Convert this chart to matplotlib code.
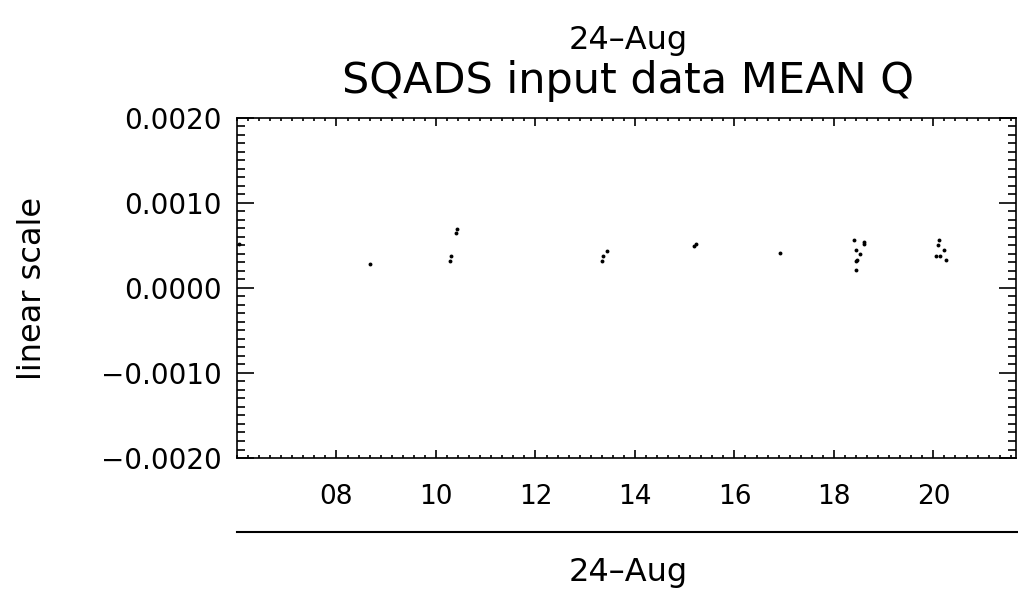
"""
SQADS input data MEAN Q - IDL 스타일 산점도 재현
"""
import matplotlib
matplotlib.use('Agg')
import matplotlib.pyplot as plt
from matplotlib.lines import Line2D
from matplotlib.ticker import MultipleLocator, FuncFormatter

# 데이터 (시각: 시간 단위, 값: MEAN Q)
hours = [6.05, 8.68, 10.29, 10.31, 10.40, 10.43, 13.33, 13.36, 13.43,
         15.19, 15.23, 16.91, 18.41, 18.45, 18.45, 18.45, 18.46, 18.53,
         18.61, 18.61, 20.06, 20.09, 20.11, 20.13, 20.21, 20.25]
mean_q = [0.00052, 0.00028, 0.00031, 0.00037, 0.00064, 0.00069, 0.00031, 0.00038, 0.00043,
          0.00049, 0.00051, 0.00041, 0.00056, 0.00044, 0.00031, 0.00021, 0.00033, 0.00040,
          0.00051, 0.00054, 0.00038, 0.00050, 0.00056, 0.00037, 0.00045, 0.00033]

x_ticks = [8, 10, 12, 14, 16, 18, 20]
y_ticks = [-0.002, -0.001, 0.0, 0.001, 0.002]
date_label = '24\u2013Aug'
title = 'SQADS input data MEAN Q'

plt.rcParams['font.family'] = 'DejaVu Sans'

fig = plt.figure(figsize=(10.18, 5.9), dpi=100)
ax = fig.add_axes([0.2328, 0.2237, 0.7652, 0.5768])

ax.plot(hours, mean_q, 'o', color='black', markersize=2.8, markeredgewidth=0)

ax.set_xlim(6.0, 21.66)
ax.set_ylim(-0.002, 0.002)
ax.set_xticks(x_ticks)
ax.set_yticks(y_ticks)
ax.xaxis.set_minor_locator(MultipleLocator(2 / 9))
ax.yaxis.set_minor_locator(MultipleLocator(0.0001))
ax.xaxis.set_major_formatter(FuncFormatter(lambda v, p: f'{int(round(v)):02d}'))
ax.yaxis.set_major_formatter(FuncFormatter(lambda v, p: f'{v:.4f}'.replace('-', '\u2212')))

# IDL 스타일 눈금 (안쪽, 네 면 모두)
ax.tick_params(which='both', direction='in', top=True, right=True, width=1.2, color='black')
ax.tick_params(axis='y', which='major', length=12, pad=11, labelsize=20)
ax.tick_params(axis='y', which='minor', length=6)
ax.tick_params(axis='x', which='major', length=6, pad=19, labelsize=19)
ax.tick_params(axis='x', which='minor', length=2.5)
for s in ax.spines.values():
    s.set_linewidth(1.2)

# y축 제목
fig.text(33 / 1018, 1 - 288 / 590, 'linear scale', rotation=90,
         ha='center', va='center', fontsize=23)

# 제목 (두 줄)
fig.text(0.617, 0.932, date_label, ha='center', va='center', fontsize=23)
fig.text(0.617, 0.862, title, ha='center', va='center', fontsize=31)

# 하단 보조 축선 + 날짜
fig.add_artist(Line2D([0.2328, 1.0], [1 - 532 / 590] * 2, color='black', linewidth=1.5))
fig.text(0.617, 1 - 572 / 590, date_label, ha='center', va='center', fontsize=23)

plt.savefig('out.png', dpi=100)
plt.close()
